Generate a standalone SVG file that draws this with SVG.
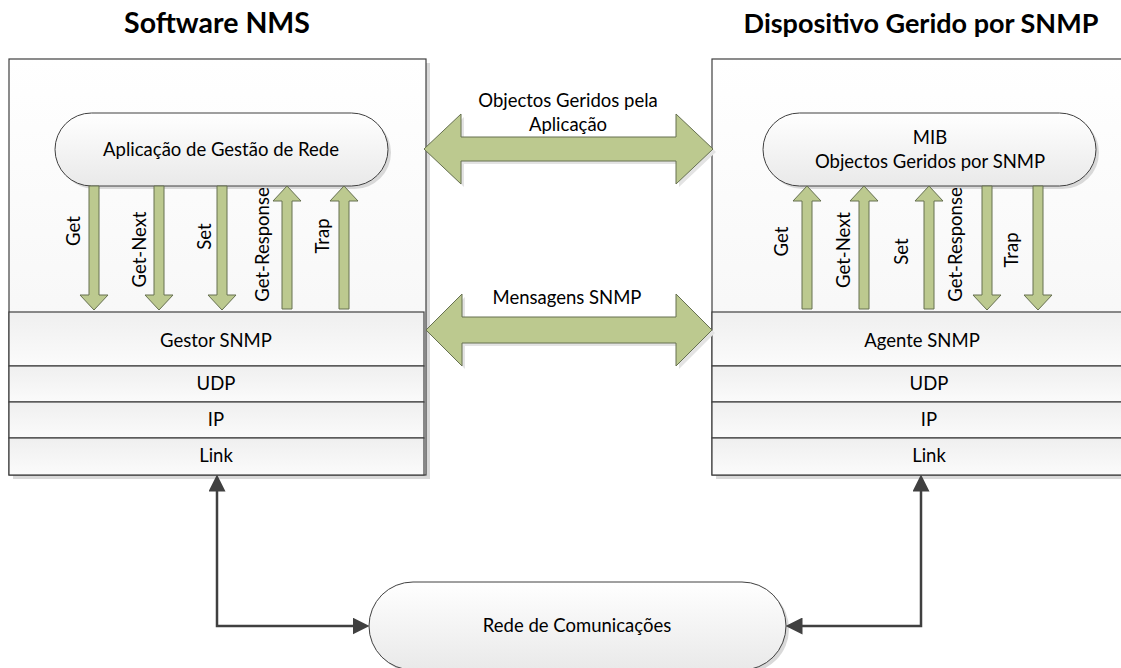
<svg xmlns="http://www.w3.org/2000/svg" width="1121" height="668" viewBox="0 0 1121 668">
<defs>
<linearGradient id="boxG" x1="0" y1="0" x2="0" y2="1"><stop offset="0" stop-color="#ffffff"/><stop offset="1" stop-color="#f3f3f3"/></linearGradient>
<linearGradient id="rowG" x1="0" y1="0" x2="0" y2="1"><stop offset="0" stop-color="#efefef"/><stop offset="1" stop-color="#fbfbfb"/></linearGradient>
<linearGradient id="pillG" x1="0" y1="0" x2="0" y2="1"><stop offset="0" stop-color="#ffffff"/><stop offset="1" stop-color="#e9e9e9"/></linearGradient>
<marker id="ah" markerUnits="userSpaceOnUse" markerWidth="17" markerHeight="17" refX="8" refY="8" orient="auto-start-reverse" viewBox="0 0 16 16"><path d="M0,0 L16,8 L0,16 z" fill="#404040"/></marker>
</defs>
<style>
text{font-family:Lato,"Liberation Sans",sans-serif;fill:#000;}
.t{font-size:18.5px;text-anchor:middle;}
.h{font-weight:bold;text-anchor:middle;}
.box{fill:url(#boxG);stroke:#404040;stroke-width:1.2;}
.row{fill:url(#rowG);stroke:#404040;stroke-width:1.2;}
.pill{fill:url(#pillG);stroke:#404040;stroke-width:1;}
.sh{fill:#d9d9d9;}
.ga{fill:#bcc98f;stroke:#667050;stroke-width:1;}
.gsh{fill:#e3e3e3;}
.con{fill:none;stroke:#404040;stroke-width:2.5;marker-start:url(#ah);marker-end:url(#ah);}
</style>

<text class="h" x="217" y="33" font-size="28.5">Software NMS</text>
<text class="h" x="921" y="33" font-size="27">Dispositivo Gerido por SNMP</text>

<g id="nms">
<rect class="sh" x="13" y="63" width="417" height="416"/>
<rect class="box" x="9" y="59" width="417" height="416"/>
<g id="nms-app">
<rect class="sh" x="58" y="116" width="333" height="73" rx="36.5"/>
<rect class="pill" x="55" y="113" width="333" height="73" rx="36.5"/>
<text class="t" x="221" y="156">Aplicação de Gestão de Rede</text>
</g>
<g id="nms-gestor"><rect class="row" x="9" y="312" width="415" height="54"/><text class="t" x="216" y="347">Gestor SNMP</text></g>
<g id="nms-udp"><rect class="row" x="9" y="366" width="415" height="36"/><text class="t" x="216" y="390">UDP</text></g>
<g id="nms-ip"><rect class="row" x="9" y="402" width="415" height="36"/><text class="t" x="216" y="426">IP</text></g>
<g id="nms-link"><rect class="row" x="9" y="438" width="415" height="37"/><text class="t" x="216" y="462">Link</text></g>
<g id="nms-ops">
<polygon class="ga" points="89,186 99,186 99,295 108,295 94,310 80,295 89,295"/>
<polygon class="ga" points="154,186 164,186 164,295 173,295 159,310 145,295 154,295"/>
<polygon class="ga" points="217,186 227,186 227,295 236,295 222,310 208,295 217,295"/>
<polygon class="ga" points="287,186 301,201 292,201 292,309 282,309 282,201 273,201"/>
<polygon class="ga" points="344,186 358,201 349,201 349,309 339,309 339,201 330,201"/>
<text class="t" transform="translate(80,231) rotate(-90)">Get</text>
<text class="t" transform="translate(146,249.5) rotate(-90)">Get-Next</text>
<text class="t" transform="translate(210.5,236.5) rotate(-90)">Set</text>
<text class="t" transform="translate(269,244.5) rotate(-90)">Get-Response</text>
<text class="t" transform="translate(329,236) rotate(-90)">Trap</text>
</g>
</g>

<g id="device">
<rect class="sh" x="716" y="63" width="417" height="416"/>
<rect class="box" x="712" y="59" width="417" height="416"/>
<g id="dev-mib">
<rect class="sh" x="766" y="116" width="333" height="73" rx="36.5"/>
<rect class="pill" x="763" y="113" width="333" height="73" rx="36.5"/>
<text class="t" x="930" y="144">MIB</text>
<text class="t" x="930" y="168">Objectos Geridos por SNMP</text>
</g>
<g id="dev-agente"><rect class="row" x="712" y="312" width="420" height="54"/><text class="t" x="922" y="347">Agente SNMP</text></g>
<g id="dev-udp"><rect class="row" x="712" y="366" width="420" height="36"/><text class="t" x="929" y="390">UDP</text></g>
<g id="dev-ip"><rect class="row" x="712" y="402" width="420" height="36"/><text class="t" x="929" y="426">IP</text></g>
<g id="dev-link"><rect class="row" x="712" y="438" width="420" height="37"/><text class="t" x="929" y="462">Link</text></g>
<g id="dev-ops">
<polygon class="ga" points="807,186 821,201 812,201 812,309 802,309 802,201 793,201"/>
<polygon class="ga" points="864,186 878,201 869,201 869,309 859,309 859,201 850,201"/>
<polygon class="ga" points="929,186 943,201 934,201 934,309 924,309 924,201 915,201"/>
<polygon class="ga" points="982,186 992,186 992,295 1001,295 987,310 973,295 982,295"/>
<polygon class="ga" points="1033,186 1043,186 1043,295 1052,295 1038,310 1024,295 1033,295"/>
<text class="t" transform="translate(788,241.5) rotate(-90)">Get</text>
<text class="t" transform="translate(850,250) rotate(-90)">Get-Next</text>
<text class="t" transform="translate(908,251.5) rotate(-90)">Set</text>
<text class="t" transform="translate(962,244.5) rotate(-90)">Get-Response</text>
<text class="t" transform="translate(1018,250) rotate(-90)">Trap</text>
</g>
</g>

<g id="rede">
<rect class="sh" x="372" y="585" width="417" height="88" rx="44"/>
<rect class="pill" x="369" y="582" width="417" height="88" rx="44"/>
<text class="t" x="577" y="632">Rede de Comunicações</text>
</g>

<g id="connectors">
<g id="obj-link">
<polygon class="gsh" points="427,152 464,117 464,140 679,140 679,117 716,152 679,187 679,164 464,164 464,187"/>
<polygon class="ga" points="424,149 461,114 461,137 676,137 676,114 713,149 676,184 676,161 461,161 461,184"/>
<text class="t" x="568" y="107">Objectos Geridos pela</text>
<text class="t" x="568" y="131">Aplicação</text>
</g>
<g id="msg-link">
<polygon class="gsh" points="429,333 465,297 465,320 679,320 679,297 715,333 679,369 679,346 465,346 465,369"/>
<polygon class="ga" points="426,330 462,294 462,317 676,317 676,294 712,330 676,366 676,343 462,343 462,366"/>
<text class="t" x="567" y="304">Mensagens SNMP</text>
</g>
<path class="con" d="M217,483 V626 H361"/>
<path class="con" d="M921,483 V626 H794"/>
</g>
</svg>
